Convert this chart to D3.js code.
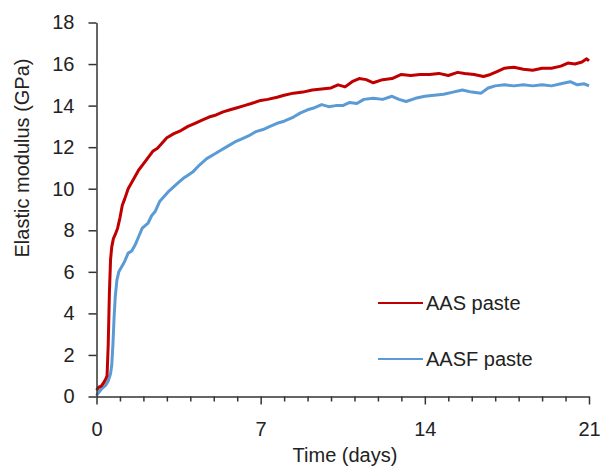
<!DOCTYPE html>
<html><head><meta charset="utf-8">
<script src="https://cdn.jsdelivr.net/npm/d3@7"></script>
<style>body{margin:0;background:#fff}svg{display:block}text{font-family:"Liberation Sans",Arial,sans-serif;fill:#222}</style>
</head><body><svg id="c" width="603" height="468"></svg>
<script>
const seriesNames = ["AAS paste", "AASF paste"];
const seriesColors = ["#C00000", "#5B9BD5"];
const xTickLabels = [0, 7, 14, 21];
const yTickLabels = [0, 2, 4, 6, 8, 10, 12, 14, 16, 18];

const aasTime = [0,0.1,0.2,0.3,0.4,0.45,0.5,0.55,0.6,0.65,0.72,0.8,0.9,1.0,1.1,1.2,1.35,1.5,1.65,1.8,2.0,2.2,2.4,2.6,2.8,3.0,3.3,3.6,3.9,4.2,4.5,4.8,5.1,5.4,5.7,6.0,6.3,6.6,7.0,7.3,7.7,8.0,8.4,8.8,9.2,9.6,10.0,10.3,10.6,10.9,11.2,11.5,11.8,12.2,12.6,13.0,13.4,13.8,14.2,14.6,15.0,15.4,15.7,16.1,16.5,16.8,17.1,17.4,17.8,18.2,18.6,19.0,19.4,19.8,20.1,20.4,20.7,20.9,21.0];
const aasValue = [0.3,0.45,0.5,0.65,0.85,1.0,2.5,5.0,6.6,7.2,7.6,7.8,8.1,8.6,9.2,9.5,10.0,10.3,10.6,10.9,11.2,11.5,11.8,11.95,12.2,12.45,12.65,12.8,13.0,13.15,13.3,13.45,13.55,13.7,13.8,13.9,14.0,14.1,14.25,14.3,14.4,14.5,14.6,14.65,14.75,14.8,14.85,15.0,14.9,15.15,15.3,15.25,15.1,15.25,15.3,15.5,15.45,15.5,15.5,15.55,15.45,15.6,15.55,15.5,15.4,15.5,15.65,15.8,15.85,15.75,15.7,15.8,15.8,15.9,16.05,16.0,16.1,16.25,16.15];

const aasfTime = [0,0.1,0.2,0.3,0.4,0.5,0.6,0.65,0.7,0.75,0.8,0.87,0.95,1.05,1.2,1.35,1.5,1.65,1.8,1.95,2.05,2.2,2.35,2.5,2.7,2.9,3.1,3.3,3.5,3.7,3.9,4.1,4.4,4.7,5.0,5.3,5.6,5.9,6.2,6.5,6.8,7.1,7.4,7.7,8.0,8.4,8.7,9.0,9.3,9.6,9.9,10.2,10.5,10.8,11.1,11.4,11.8,12.2,12.6,12.9,13.2,13.6,14.0,14.4,14.8,15.2,15.6,16.0,16.4,16.7,17.0,17.4,17.8,18.2,18.6,19.0,19.4,19.8,20.2,20.5,20.8,21.0];
const aasfValue = [0.05,0.2,0.35,0.45,0.55,0.75,1.1,1.5,2.5,3.8,4.8,5.6,6.0,6.2,6.5,6.9,7.0,7.3,7.7,8.1,8.2,8.35,8.7,8.9,9.4,9.65,9.9,10.1,10.3,10.5,10.65,10.8,11.15,11.45,11.65,11.85,12.05,12.25,12.4,12.55,12.75,12.85,13.0,13.15,13.25,13.45,13.65,13.8,13.9,14.05,13.95,14.0,14.0,14.15,14.1,14.3,14.35,14.3,14.45,14.3,14.2,14.35,14.45,14.5,14.55,14.65,14.75,14.65,14.6,14.85,14.95,15.0,14.95,15.0,14.95,15.0,14.95,15.05,15.15,15.0,15.05,14.95];

const svg = d3.select("#c");
const x = d3.scaleLinear().domain([0, 21]).range([96.5, 589]);
const y = d3.scaleLinear().domain([0, 18]).range([396.5, 22.5]);

const series = [
  {name: seriesNames[0], color: seriesColors[0], t: aasTime, v: aasValue},
  {name: seriesNames[1], color: seriesColors[1], t: aasfTime, v: aasfValue}
];

const line = d3.line().x(d => x(d[0])).y(d => y(d[1]));
series.slice().reverse().forEach(s => {
  const pts = s.t.map((t, i) => [t, s.v[i]]);
  svg.append("path").attr("d", line(pts)).attr("fill", "none")
    .attr("stroke", s.color).attr("stroke-width", 3).attr("stroke-linejoin", "round");
});

// Y axis
const yAxis = d3.axisLeft(y).tickValues(yTickLabels).tickSize(8).tickPadding(14).tickSizeOuter(0);
const gy = svg.append("g").attr("transform", "translate(96.5,0)").call(yAxis);
gy.select(".domain").attr("stroke", "#333").attr("stroke-width", 1.5);
gy.selectAll(".tick line").attr("stroke", "#333").attr("stroke-width", 1.5);
gy.selectAll(".tick text").style("font-size", "20px").attr("fill", "#222");

// X axis
const days = d3.range(0, 22);
const xAxis = d3.axisBottom(x).tickValues(days).tickSize(6).tickSizeOuter(0)
  .tickFormat(d => xTickLabels.includes(d) ? d : "").tickPadding(19);
const gx = svg.append("g").attr("transform", "translate(0,396.5)").call(xAxis);
gx.select(".domain").attr("stroke", "#333").attr("stroke-width", 1.5);
gx.selectAll(".tick line").attr("stroke", "#333").attr("stroke-width", 1.5)
  .attr("y2", d => xTickLabels.includes(d) ? 8 : 5);
gx.selectAll(".tick text").style("font-size", "20px").attr("fill", "#222");

// Titles
svg.append("text").attr("x", 345).attr("y", 462).attr("text-anchor", "middle")
  .style("font-size", "20px").text("Time (days)");
svg.append("text").attr("transform", "translate(29,158) rotate(-90)").attr("text-anchor", "middle")
  .style("font-size", "20px").text("Elastic modulus (GPa)");

// Legend
const legY = [303, 359];
series.forEach((s, i) => {
  svg.append("line").attr("x1", 378).attr("x2", 423).attr("y1", legY[i]).attr("y2", legY[i])
    .attr("stroke", s.color).attr("stroke-width", 2);
  svg.append("text").attr("x", 426).attr("y", legY[i] + 7).style("font-size", "20px").text(s.name);
});
</script></body></html>
